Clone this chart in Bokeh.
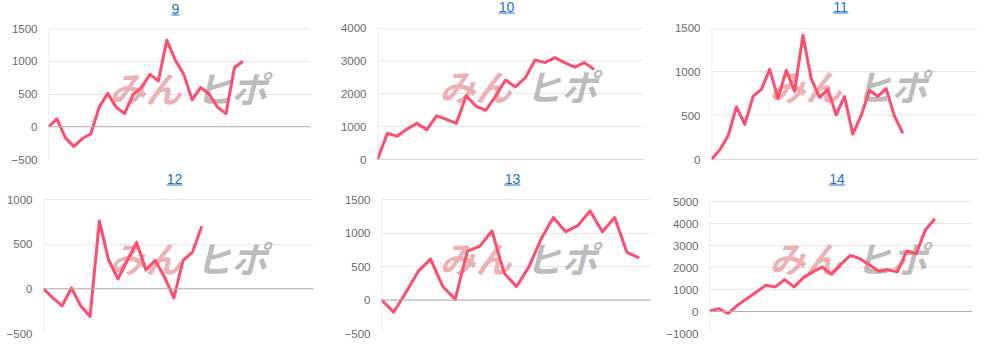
from bokeh.plotting import figure
from bokeh.models import FixedTicker, Span, Label, BoxAnnotation, Range1d
from bokeh.layouts import column, row
from bokeh.embed import file_html
from bokeh.resources import INLINE

# ---------------- data ----------------
titles = ["9", "10", "11", "12", "13", "14"]

s9 = [0, 120, -170, -300, -180, -110, 300, 510, 300, 200, 490, 600,
      800, 700, 1320, 1020, 800, 410, 600, 500, 300, 200, 900, 1000]
s10 = [0, 800, 710, 930, 1100, 910, 1330, 1220, 1100, 1940, 1620, 1500,
       1940, 2420, 2210, 2490, 3030, 2950, 3100, 2950, 2810, 2950, 2740]
s11 = [0, 110, 270, 600, 400, 720, 800, 1030, 700, 1020, 780, 1420,
       920, 710, 800, 510, 720, 290, 500, 790, 720, 810, 500, 300]
s12 = [0, -100, -190, 10, -190, -310, 760, 320, 110, 320, 520, 210,
       320, 130, -100, 320, 410, 700]
s13 = [0, -180, 115, 430, 610, 200, 10, 730, 800, 1030, 400, 200,
       490, 910, 1230, 1020, 1110, 1330, 1020, 1230, 710, 630]
s14 = [20, 130, -90, 290, 590, 890, 1190, 1120, 1450, 1120, 1540, 1800,
       2020, 1690, 2150, 2550, 2400, 2130, 1840, 1900, 1800, 2750, 2630,
       3720, 4220]
series = [s9, s10, s11, s12, s13, s14]

y_ticks = [
    [-500, 0, 500, 1000, 1500],
    [0, 1000, 2000, 3000, 4000],
    [0, 500, 1000, 1500],
    [-500, 0, 500, 1000],
    [-500, 0, 500, 1000, 1500],
    [-1000, 0, 1000, 2000, 3000, 4000, 5000],
]
x_slots = [31, 27, 32, 29, 22, 28]

# ---------------- layout (width, height, left, right, top of plot area, bottom) ----------------
geom = [
    (330, 170, 48, 20, 28, 11),
    (330, 170, 47, 17, 28, 9),
    (327, 170, 51, 10, 28, 9),
    (330, 175, 43, 17, 29, 12),
    (330, 175, 51, 9, 29, 12),
    (327, 175, 49, 15, 31, 12),
]

LINE = "#ff4d6d"
TICK = "#6b6b6b"
GRID = "#e6e6e6"
TITLE_C = "#1a73c8"

figs = []
for i in range(6):
    W, H, L, R, T, B = geom[i]
    fw = W - L - R
    fh = H - T - B          # height of the gridded area
    fh2 = H - B             # frame height (frame reaches the top of the panel)
    ticks = y_ticks[i]
    span = ticks[-1] - ticks[0]
    y_top = ticks[-1] + span * T / fh
    p = figure(width=W, height=H, output_backend="svg", toolbar_location=None,
               x_range=Range1d(0, x_slots[i]), y_range=Range1d(ticks[0], y_top),
               min_border_left=L, min_border_right=R, min_border_top=0, min_border_bottom=B,
               background_fill_color="white", border_fill_color="white")
    p.outline_line_color = None
    p.xaxis.visible = False
    p.xgrid.visible = False
    ax = p.yaxis[0]
    ax.ticker = FixedTicker(ticks=ticks)
    ax.major_tick_line_color = None
    ax.minor_tick_line_color = None
    ax.major_tick_out = 0
    ax.major_label_standoff = 11
    ax.axis_line_color = None
    ax.major_label_text_font = "Liberation Sans"
    ax.major_label_text_font_size = "11.5px"
    ax.major_label_text_color = TICK
    p.ygrid.grid_line_color = GRID
    p.ygrid.ticker = FixedTicker(ticks=ticks)

    # faint left axis line spanning the gridded area
    p.segment(x0=[0], y0=[ticks[0]], x1=[0], y1=[ticks[-1]], line_color="#e8e8e8", line_width=1.5)

    # watermark
    wy = fh2 - 86
    p.add_layout(Label(x=109 - L, y=wy, x_units="screen", y_units="screen", text="みん",
                       text_font="Noto Sans CJK JP", text_font_style="bold italic",
                       text_font_size="36px", text_color="#e8a3a6", text_alpha=0.85,
                       text_baseline="middle", text_align="left", level="underlay"))
    p.add_layout(Label(x=195 - L, y=wy, x_units="screen", y_units="screen", text="ヒポ",
                       text_font="Noto Sans CJK JP", text_font_style="bold italic",
                       text_font_size="36px", text_color="#b0b0b0", text_alpha=0.85,
                       text_baseline="middle", text_align="left", level="underlay"))

    p.add_layout(Span(location=0, dimension="width", line_color="#b0b0b0", line_width=1))

    xs = list(range(len(series[i])))
    p.line(xs, series[i], line_color=LINE, line_width=3, line_join="round")

    # title (link-like, underlined)
    cx = fw / 2 - 4
    p.add_layout(Label(x=cx, y=fh2 - 8, x_units="screen", y_units="screen", text=titles[i],
                       text_font="Liberation Sans", text_font_size="14px",
                       text_font_style="normal",
                       text_color=TITLE_C, text_align="center", text_baseline="middle"))
    tw = 8.0 * len(titles[i])
    p.add_layout(BoxAnnotation(left=cx - tw / 2, right=cx + tw / 2,
                               bottom=fh2 - 15, top=fh2 - 14,
                               left_units="screen", right_units="screen",
                               top_units="screen", bottom_units="screen",
                               fill_color=TITLE_C, fill_alpha=1, line_color=None))
    figs.append(p)

layout = column(row(*figs[:3], spacing=0), row(*figs[3:], spacing=0), spacing=0)
open("out.html", "w").write(file_html(layout, INLINE))
